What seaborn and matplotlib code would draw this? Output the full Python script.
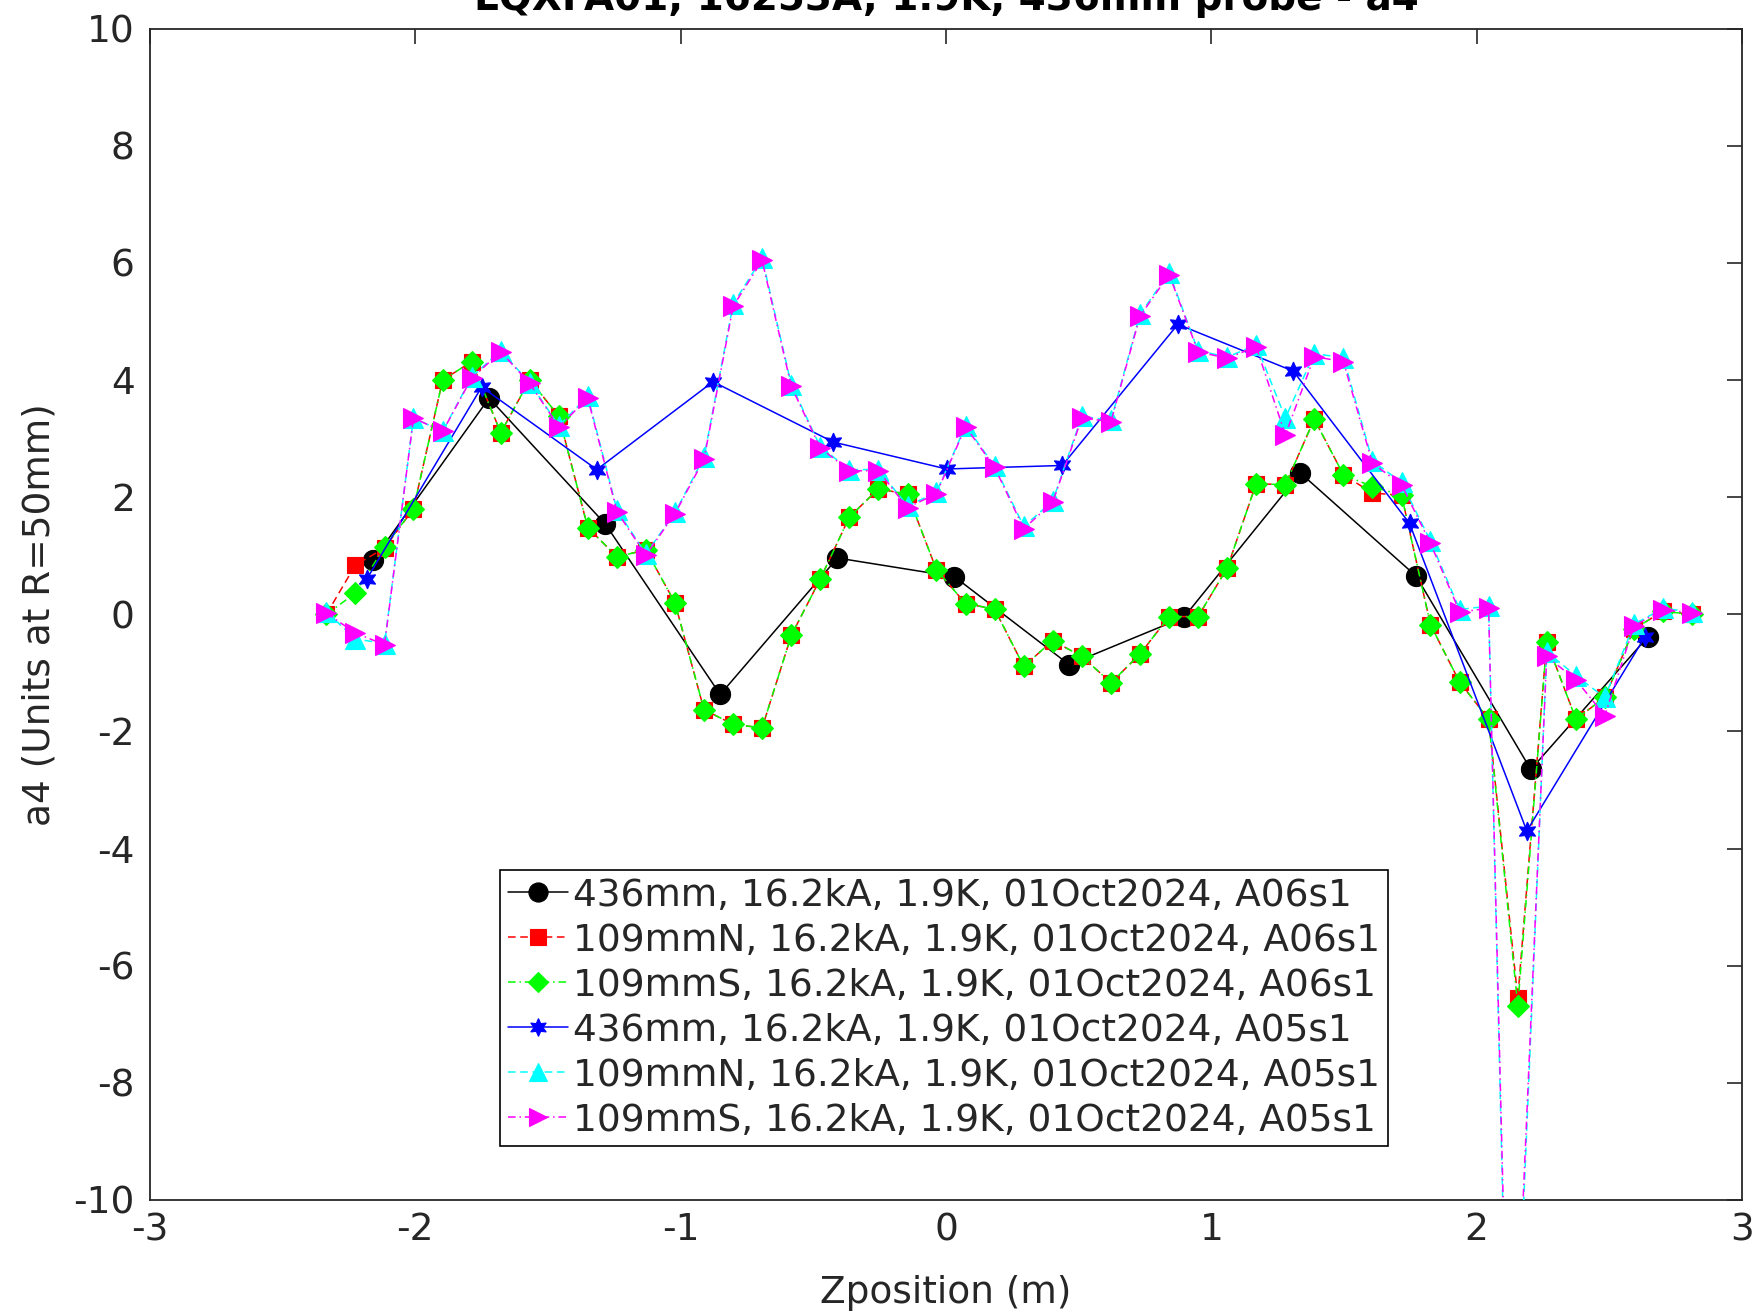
import numpy as np
import pandas as pd
import matplotlib
matplotlib.use("Agg")
import matplotlib.pyplot as plt
import seaborn as sns

# ---------------- data ----------------
labels = [
    "436mm, 16.2kA, 1.9K, 01Oct2024, A06s1",
    "109mmN, 16.2kA, 1.9K, 01Oct2024, A06s1",
    "109mmS, 16.2kA, 1.9K, 01Oct2024, A06s1",
    "436mm, 16.2kA, 1.9K, 01Oct2024, A05s1",
    "109mmN, 16.2kA, 1.9K, 01Oct2024, A05s1",
    "109mmS, 16.2kA, 1.9K, 01Oct2024, A05s1",
]

x_436_a06 = [-2.158, -1.722, -1.284, -0.851, -0.409, 0.032, 0.464, 0.897, 1.336, 1.772, 2.204, 2.644]
y_436_a06 = [0.93, 3.69, 1.54, -1.37, 0.96, 0.64, -0.86, -0.05, 2.41, 0.65, -2.65, -0.39]

x_436_a05 = [-2.183, -1.750, -1.316, -0.878, -0.425, 0.002, 0.438, 0.874, 1.309, 1.747, 2.189, 2.635]
y_436_a05 = [0.60, 3.88, 2.47, 3.97, 2.94, 2.48, 2.54, 4.95, 4.15, 1.55, -3.70, -0.38]

x_109_a06 = [-2.335, -2.226, -2.116, -2.007, -1.897, -1.788, -1.678, -1.569, -1.459, -1.350,
             -1.240, -1.131, -1.021, -0.912, -0.802, -0.693, -0.583, -0.474, -0.364, -0.255,
             -0.145, -0.036, 0.074, 0.183, 0.293, 0.402, 0.512, 0.622, 0.731, 0.841,
             0.950, 1.060, 1.169, 1.279, 1.388, 1.498, 1.607, 1.717, 1.826, 1.936,
             2.045, 2.155, 2.264, 2.374, 2.483, 2.593, 2.702, 2.812]
x_109_a05 = [-2.335, -2.226, -2.116, -2.007, -1.897, -1.788, -1.678, -1.569, -1.459, -1.350,
             -1.240, -1.131, -1.021, -0.912, -0.802, -0.693, -0.583, -0.474, -0.364, -0.255,
             -0.145, -0.036, 0.074, 0.183, 0.293, 0.402, 0.512, 0.622, 0.731, 0.841,
             0.950, 1.060, 1.169, 1.279, 1.388, 1.498, 1.607, 1.717, 1.826, 1.936,
             2.045, 2.127, 2.264, 2.374, 2.483, 2.593, 2.702, 2.812]

y_109N_a06 = [0.00, 0.84, 1.13, 1.80, 4.00, 4.31, 3.10, 4.00, 3.38, 1.48,
              0.98, 1.10, 0.19, -1.63, -1.88, -1.94, -0.36, 0.60, 1.66, 2.14,
              2.05, 0.76, 0.18, 0.09, -0.89, -0.45, -0.72, -1.17, -0.68, -0.04,
              -0.04, 0.79, 2.23, 2.21, 3.33, 2.38, 2.07, 2.03, -0.18, -1.16,
              -1.79, -6.55, -0.47, -1.79, -1.42, -0.25, 0.05, 0.00]
y_109S_a06 = [0.00, 0.36, 1.15, 1.80, 4.00, 4.31, 3.10, 4.00, 3.38, 1.48,
              0.98, 1.10, 0.19, -1.63, -1.88, -1.94, -0.36, 0.60, 1.66, 2.14,
              2.05, 0.76, 0.18, 0.09, -0.89, -0.45, -0.72, -1.17, -0.68, -0.04,
              -0.04, 0.79, 2.23, 2.21, 3.33, 2.38, 2.18, 2.03, -0.18, -1.16,
              -1.79, -6.68, -0.47, -1.79, -1.42, -0.25, 0.05, 0.00]
y_109N_a05 = [0.04, -0.42, -0.50, 3.35, 3.12, 4.05, 4.50, 3.95, 3.22, 3.72,
              1.78, 1.03, 1.74, 2.68, 5.30, 6.08, 3.92, 2.86, 2.47, 2.47,
              1.85, 2.08, 3.22, 2.53, 1.50, 1.93, 3.38, 3.31, 5.12, 5.83,
              4.50, 4.39, 4.60, 3.35, 4.45, 4.38, 2.62, 2.25, 1.25, 0.08,
              0.14, -15.5, -0.64, -1.05, -1.42, -0.17, 0.10, 0.04]
y_109S_a05 = [0.02, -0.32, -0.52, 3.35, 3.12, 4.03, 4.48, 3.94, 3.20, 3.69,
              1.75, 1.01, 1.72, 2.65, 5.26, 6.04, 3.89, 2.84, 2.45, 2.45,
              1.82, 2.06, 3.20, 2.51, 1.46, 1.91, 3.35, 3.29, 5.09, 5.80,
              4.48, 4.37, 4.57, 3.06, 4.40, 4.31, 2.58, 2.21, 1.21, 0.04,
              0.10, -15.0, -0.72, -1.12, -1.73, -0.20, 0.08, 0.02]

x_ticks = [-3, -2, -1, 0, 1, 2, 3]
y_ticks = [-10, -8, -6, -4, -2, 0, 2, 4, 6, 8, 10]

title = "LQXFA01, 16253A, 1.9K, 436mm probe - a4"
xlabel = "Zposition (m)"
ylabel = "a4 (Units at R=50mm)"

# ---------------- style ----------------
sns.set_theme(style="white")
plt.rcParams["font.family"] = ["DejaVu Sans"]

W, H = 1759, 1313
fig = plt.figure(figsize=(W / 100, H / 100), dpi=100)
ax_l, ax_r, ax_t, ax_b = 150, 1742, 28.5, 1200
ax = fig.add_axes([ax_l / W, (H - ax_b) / H, (ax_r - ax_l) / W, (ax_b - ax_t) / H])

series = [
    (x_436_a06, y_436_a06, "#000000", "o", 14.5, "-"),
    (x_109_a06, y_109N_a06, "#FF0000", "s", 11.5, (0, (5, 3))),
    (x_109_a06, y_109S_a06, "#00FF00", "D", 11, (0, (5, 2.5, 1, 2.5))),
    (x_436_a05, y_436_a05, "#0000FF", (6, 1, 0), 13.5, "-"),
    (x_109_a05, y_109N_a05, "#00FFFF", "^", 14, (0, (5, 3))),
    (x_109_a05, y_109S_a05, "#FF00FF", ">", 14, (0, (5, 2.5, 1, 2.5))),
]

for i, (xs, ys, col, mk, ms, ls) in enumerate(series):
    sns.lineplot(x=xs, y=ys, ax=ax, sort=False, estimator=None,
                 color=col, marker=mk, markersize=ms, linestyle=ls, linewidth=1.1,
                 markeredgecolor=col, markerfacecolor=col, markeredgewidth=0.8,
                 label=labels[i], zorder=2 + i)

ax.set_xlim(-3, 3)
ax.set_ylim(-10, 10)
ax.set_xticks(x_ticks)
ax.set_yticks(y_ticks)
ax.set_xticklabels([str(v) for v in x_ticks])
ax.set_yticklabels([str(v) for v in y_ticks])

for s in ax.spines.values():
    s.set_visible(True)
    s.set_color("#262626")
    s.set_linewidth(1.3)

ax.tick_params(axis="both", direction="in", length=11, width=1.2, color="#262626",
               top=True, right=True, labelsize=27, labelcolor="#262626")
ax.tick_params(axis="x", pad=9)
ax.tick_params(axis="y", pad=11)

ax.set_xlabel(xlabel, fontsize=27, color="#262626")
ax.set_ylabel(ylabel, fontsize=27, color="#262626")
ax.xaxis.set_label_coords(0.5, -0.064)
ax.yaxis.set_label_coords(-0.058, 0.5)

fig.text((ax_l + ax_r) / 2 / W, 1 - 10 / H, title, ha="center", va="baseline",
         fontsize=28, fontweight="bold", color="black")

leg = ax.legend(loc="lower left", bbox_to_anchor=(0.22, 0.046), borderaxespad=0,
                fontsize=27, frameon=True, fancybox=False, edgecolor="black",
                framealpha=1, borderpad=0.2, labelspacing=0.24, handlelength=1.6,
                handletextpad=0.15, markerscale=0.95)
leg.get_frame().set_linewidth(1.2)
leg.set_zorder(20)

fig.savefig("out.png", dpi=100, facecolor="white")
